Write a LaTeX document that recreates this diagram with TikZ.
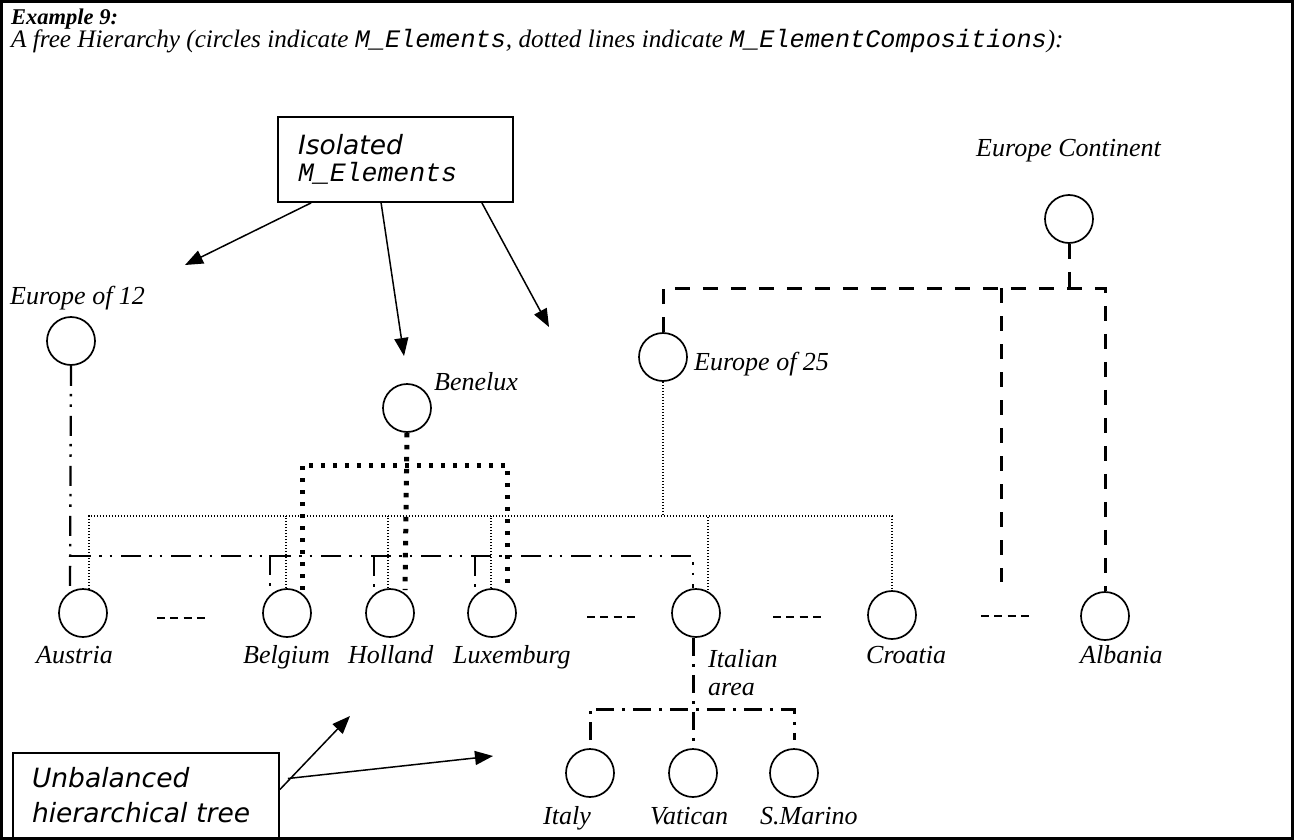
\documentclass[tikz,border=0pt]{standalone}
\usepackage{fontspec}
\setmainfont{Liberation Serif}
\newfontfamily\boxfont{DejaVu Sans}
\newfontfamily\codefont{Liberation Mono}
\usetikzlibrary{arrows.meta,calc}

\begin{document}
\begin{tikzpicture}[x=1pt,y=-1pt,
  elem/.style={circle,draw,line width=1.7pt,minimum size=48pt,inner sep=0pt},
  lbl/.style={anchor=base west,inner sep=0pt,font=\fontsize{26}{30}\selectfont\itshape},
  note/.style={draw,line width=1.8pt,rectangle,inner sep=0pt,align=left,
    font=\fontsize{26.5}{27}\selectfont},
  ptr/.style={line width=1.5pt,-{Triangle[length=18pt,width=14pt]}},
  comp25/.style={line width=1.2pt,dash pattern=on 1.3pt off 1.7pt},
  comp12/.style={line width=2.3pt,dash pattern=on 20pt off 8pt on 2.5pt off 8pt on 2.5pt off 9pt},
  compben/.style={line width=5pt,dash pattern=on 4.5pt off 7.5pt},
  compcont/.style={line width=3pt,dash pattern=on 15pt off 13pt},
  compit/.style={line width=3pt,dash pattern=on 18pt off 8pt on 3pt off 8pt},
  etc/.style={line width=1.5pt,dash pattern=on 8pt off 5.33pt}]

\useasboundingbox (0,0) rectangle (1295,840);
\draw[line width=3pt] (1.5,1.5) rectangle (1292,838.5);

% heading
\node[anchor=base west,inner sep=0pt,font=\fontsize{22.5}{26}\selectfont\bfseries\itshape]
  (title) at (11,25) {Example 9:};
\node[anchor=base west,inner sep=0pt,font=\fontsize{25.2}{28}\selectfont\itshape]
  (subtitle) at (11,48) {A free Hierarchy (circles indicate {\codefont M\_Elements}, dotted lines indicate {\codefont M\_ElementCompositions}):};

% elements
\node[elem] (e12)  at (71,341)  {};
\node[elem] (ben)  at (407,408) {};
\node[elem] (e25)  at (663,357) {};
\node[elem] (cont) at (1069,219) {};
\node[elem] (aus)  at (83,613)  {};
\node[elem] (bel)  at (287,613) {};
\node[elem] (hol)  at (390,613) {};
\node[elem] (lux)  at (492,613) {};
\node[elem] (ita)  at (696,613) {};
\node[elem] (cro)  at (892,615) {};
\node[elem] (alb)  at (1105,616) {};
\node[elem] (italy) at (590,773) {};
\node[elem] (vat)  at (693,773) {};
\node[elem] (smr)  at (794,773) {};

% element names
\node[lbl] (l-e12)  at (10,304)  {Europe of 12};
\node[lbl] (l-ben)  at (434,390) {Benelux};
\node[lbl] (l-e25)  at (694,370) {Europe of 25};
\node[lbl] (l-cont) at (976,157) {Europe Continent};
\node[lbl] (l-aus)  at (36,663)  {Austria};
\node[lbl] (l-bel)  at (243,663) {Belgium};
\node[lbl] (l-hol)  at (348,663) {Holland};
\node[lbl] (l-lux)  at (453,663) {Luxemburg};
\node[lbl] (l-ita1) at (708,667) {Italian};
\node[lbl] (l-ita2) at (708,695) {area};
\node[lbl] (l-cro)  at (866,663) {Croatia};
\node[lbl] (l-alb)  at (1080,663) {Albania};
\node[lbl] (l-italy) at (543,824) {Italy};
\node[lbl] (l-vat)  at (650,824) {Vatican};
\node[lbl] (l-smr)  at (760,824) {S.Marino};

% omitted siblings
\draw[etc] (157,618) -- (205,618);
\draw[etc] (587,617) -- (636,617);
\draw[etc] (773,617) -- (822,617);
\draw[etc] (981,616) -- (1030,616);

% junction points
\coordinate (j12) at (71,556);
\coordinate (j25) at (663,516);
\coordinate (jb)  at (407,465);
\coordinate (jc)  at (1069,288);
\coordinate (ji)  at (693,709);
\coordinate (loose) at (1001,582);

% Europe of 25 composition (thin dotted)
\draw[comp25] (e25.south) -- (j25);
\draw[comp25] ([xshift=6pt,yshift=-1pt]aus.north) |- (j25) -| (cro.north);
\draw[comp25] ([xshift=-1pt]bel.north) -- ([xshift=-1pt]bel.north |- j25);
\draw[comp25] ([xshift=-2pt]hol.north) -- ([xshift=-2pt]hol.north |- j25);
\draw[comp25] ([xshift=-1pt]lux.north) -- ([xshift=-1pt]lux.north |- j25);
\draw[comp25] ([xshift=12pt,yshift=-2pt]ita.north) -- ([xshift=12pt]ita.north |- j25);

% Europe of 12 composition (dash dot dot)
\draw[comp12] (e12.south) -- ([xshift=-13pt,yshift=-1pt]aus.north);
\draw[comp12] (j12) -| ([xshift=-3pt]ita.north);
\draw[comp12] ([xshift=-17pt,yshift=1pt]bel.north |- j12) -- ([xshift=-17pt,yshift=1pt]bel.north);
\draw[comp12] ([xshift=-16pt]hol.north |- j12) -- ([xshift=-16pt,yshift=1pt]hol.north);
\draw[comp12] ([xshift=-17pt]lux.north |- j12) -- ([xshift=-17pt,yshift=1pt]lux.north);

% Benelux composition (heavy dotted)
\draw[compben] (ben.south) -- ([xshift=15pt,yshift=-2pt]hol.north);
\draw[compben] ([xshift=15pt,yshift=-2pt]bel.north) |- (jb) -| ([xshift=15pt,yshift=-2pt]lux.north);

% Europe Continent composition (dashed)
\draw[compcont] (cont.south) -- (jc);
\draw[compcont] (e25.north) |- (jc) -| (alb.north);
\draw[compcont] (loose |- jc) -- (loose);

% Italian area composition (dash dot)
\draw[compit] ([xshift=-3pt]ita.south) -- ([yshift=6pt]vat.north);
\draw[compit] ([yshift=8pt]italy.north) |- (ji) -| ([yshift=8pt]smr.north);

% notes
\node[note,minimum width=235pt,minimum height=85pt,text width=195pt] (iso) at (395.5,159.5)
  {{\boxfont\itshape Isolated}\\{\codefont\itshape M\_Elements}};
\node[note,minimum width=266pt,minimum height=85pt,text width=228pt,
  font=\fontsize{26.5}{35}\selectfont] (unb) at (146,795.5)
  {{\boxfont\itshape Unbalanced}\\{\boxfont\itshape hierarchical tree}};

\coordinate (t1) at (185,265);
\coordinate (t2) at (404,356);
\coordinate (t3) at (549,327);
\coordinate (t4) at (350,716);
\coordinate (t5) at (493,756);

\draw[ptr] ([xshift=34pt]iso.south west) -- (t1);
\draw[ptr] ([xshift=104pt]iso.south west) -- (t2);
\draw[ptr] ([xshift=-32pt]iso.south east) -- (t3);
\draw[ptr] ([yshift=6pt]unb.east) -- (t4);
\draw[ptr] ([xshift=8pt,yshift=17pt]unb.east) -- (t5);
\end{tikzpicture}
\end{document}
